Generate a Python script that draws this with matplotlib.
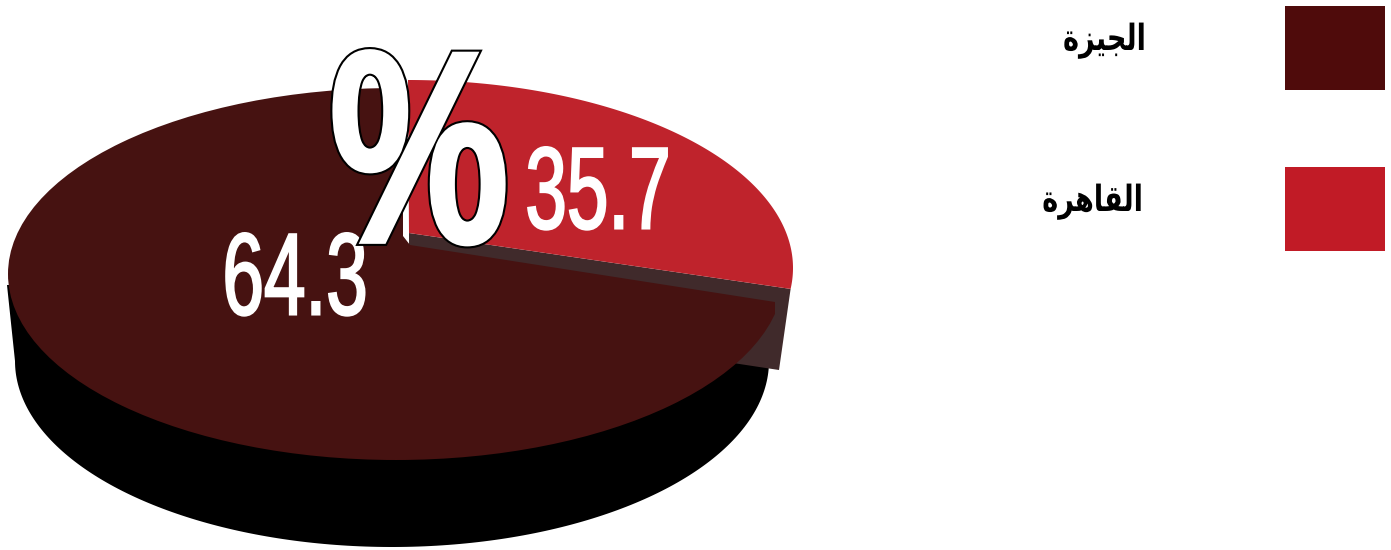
"""
plot.py
3D-style pie of the Giza / Cairo split, with a colour key on the right.
Everything is placed on a pixel-sized axes, y pointing down.
"""

import matplotlib
matplotlib.use("Agg")
import matplotlib.pyplot as plt
import numpy as np
from matplotlib.patches import Ellipse, Polygon, Rectangle
from matplotlib.patheffects import AbstractPathEffect
from matplotlib.transforms import Affine2D

W, H = 1391, 550

SHARES = [64.3, 35.7]
SHARE_LABELS = ["64.3", "35.7"]
# no shaping or bidi in matplotlib, so Arabic is stored as presentation forms in visual order
CATEGORIES = ["\uFE93\uFEB0\uFEF4\uFEA0\uFEDF\uFE8D",
              "\uFE93\uFEAE\uFEEB\uFE8E\uFED8\uFEDF\uFE8D"]

TOP_COLORS = ["#461211", "#bf232c"]
KEY_COLORS = ["#4f0b0b", "#c11b26"]
WALL_COLOR = "#402a2b"


class Squeezed(AbstractPathEffect):
    """Narrow a text horizontally about x=cx. Strokes are (colour, width) pairs, drawn in order."""

    def __init__(self, sx, cx, strokes=()):
        super().__init__()
        self.sx, self.cx, self.strokes = sx, cx, strokes

    def draw_path(self, renderer, gc, tpath, affine, rgbFace=None):
        squeeze = Affine2D().translate(-self.cx, 0).scale(self.sx, 1).translate(self.cx, 0)
        for color, lw in self.strokes:
            gc0 = renderer.new_gc()
            gc0.copy_properties(gc)
            gc0.set_foreground(color)
            gc0.set_linewidth(lw)
            gc0.set_joinstyle("miter")
            renderer.draw_path(gc0, tpath, affine + squeeze, rgbFace)
            gc0.restore()
        if not self.strokes:
            renderer.draw_path(gc, tpath, affine + squeeze, rgbFace)


def arc(cx, cy, a, b, t0, t1, n=200):
    # t in degrees, counter-clockwise as seen on screen
    t = np.radians(np.linspace(t0, t1, n))
    return np.column_stack([cx + a * np.cos(t), cy - b * np.sin(t)])


def main():
    fig = plt.figure(figsize=(W / 100, H / 100), dpi=100)
    ax = fig.add_axes([0, 0, 1, 1])
    ax.set_xlim(0, W)
    ax.set_ylim(H, 0)
    ax.axis("off")

    # black rim under the big slice
    rim = arc(392, 361, 377, 186, 0, -180)
    rim = np.vstack([[[769, 290]], rim, [[7, 285]]])
    ax.add_patch(Polygon(rim, closed=True, fc="black", ec="none", zorder=1))

    # small slice, lifted out of the pie: the tilt foreshortens its sweep
    sweep = SHARES[1] / 100 * 360 * 0.75
    red_arc = arc(408, 268, 385, 188, 90, 90 - sweep)
    end = red_arc[-1]
    # side wall below the cut edge of the small slice
    wall = [(409, 233), tuple(end), (779, 370), (700, 358), (409, 262)]
    ax.add_patch(Polygon(wall, closed=True, fc=WALL_COLOR, ec="none", zorder=2))
    ax.add_patch(Polygon(np.vstack([[[409, 233]], red_arc]), closed=True,
                         fc=TOP_COLORS[1], ec="none", zorder=3))

    # big slice: full ellipse clipped to what is left of the small one
    big = Ellipse((396, 274), 776, 372, fc=TOP_COLORS[0], ec="none", zorder=4)
    ax.add_patch(big)
    clip = Polygon([(403, 60), (403, 236), (410, 245), (775, 302), (775, 480),
                    (0, 480), (0, 60)], closed=True, transform=ax.transData)
    big.set_clip_path(clip)

    # value labels
    ax.text(295, 284, SHARE_LABELS[0], color="white", fontsize=84, ha="center", va="center",
            family="Liberation Sans", zorder=6,
            path_effects=[Squeezed(0.64, 295, [("white", 1.5)])])
    ax.text(598, 198, SHARE_LABELS[1], color="white", fontsize=84, ha="center", va="center",
            family="Liberation Sans", zorder=6,
            path_effects=[Squeezed(0.64, 598, [("white", 1.5)])])

    # outlined percent sign across the two slices
    ax.text(419, 172, "%", color="white", fontsize=184, ha="center", va="center",
            family="Open Sans", zorder=7,
            path_effects=[Squeezed(0.88, 419, [("black", 10.0), ("white", 7.0)])])

    # colour key
    for name, color, y_box, x_text, y_text in zip(CATEGORIES, KEY_COLORS, (6, 167), (1146, 1143), (41, 202)):
        ax.add_patch(Rectangle((1285, y_box), 100, 84, fc=color, ec="none"))
        ax.text(x_text, y_text, name, color="black", fontsize=26, ha="right", va="center",
                family="DejaVu Sans", fontweight="bold",
                path_effects=[Squeezed(0.75, x_text)])

    fig.savefig("out.png", dpi=100)
    plt.close(fig)


if __name__ == "__main__":
    main()
